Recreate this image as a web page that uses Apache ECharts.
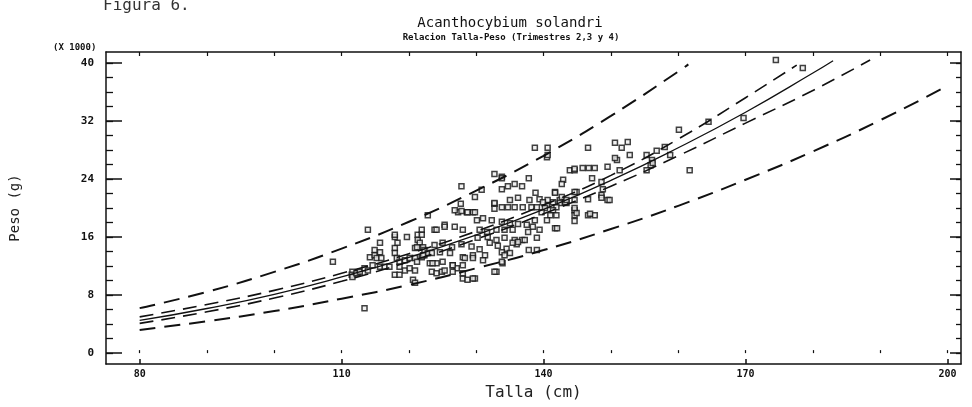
<!DOCTYPE html>
<html lang="es">
<head>
    <meta charset="UTF-8">
    <script src="https://cdn.jsdelivr.net/npm/echarts@6/dist/echarts.min.js"></script>
    <title>Figura 6</title>
</head>
<body style="margin:0;background:#fff;">
<div id="main" style="width: 972px;height:407px;"></div>
<script type="text/javascript">
    // etiquetas de los ejes
    var tallaTicks = [80, 110, 140, 170, 200];
    var tallaMinor = [80, 90, 100, 110, 120, 130, 140, 150, 160, 170, 180, 190, 200];
    var pesoTicks = [0, 8, 16, 24, 32, 40];
    var pesoMinor = [0, 2, 4, 6, 8, 10, 12, 14, 16, 18, 20, 22, 24, 26, 28, 30, 32, 34, 36, 38, 40];

    // observaciones talla (cm) - peso (x1000 g)
    var muestras = [
        [108.7,12.6],[111.6,11.2],[112.4,11.0],[111.5,10.8],[111.6,10.5],[112.2,11.0],[112.7,11.2],[113.4,11.7],
        [113.9,11.4],[113.4,6.2],[113.9,17.0],[114.2,13.2],[114.9,14.2],[114.9,13.5],[115.7,13.9],[115.2,13.1],
        [115.9,13.1],[115.7,15.2],[114.6,12.1],[115.7,11.9],[116.4,11.9],[117.1,11.9],[117.9,16.0],[117.9,16.3],
        [117.9,14.5],[117.9,13.8],[118.2,13.1],[118.3,15.2],[117.9,10.8],[118.6,10.8],[118.6,12.6],[119.4,12.8],
        [120.1,13.1],[120.9,13.1],[121.2,12.6],[121.9,13.2],[122.3,13.5],[118.6,11.9],[119.4,11.4],[120.1,11.7],
        [120.9,11.4],[120.6,10.1],[120.9,9.7],[119.7,16.0],[121.3,16.3],[121.3,15.6],[121.6,15.2],[122.1,14.6],
        [122.3,14.2],[122.8,13.8],[122.1,13.5],[120.9,14.5],[121.2,14.6],[121.9,17.0],[121.9,16.3],[122.8,19.0],
        [123.8,17.0],[125.3,17.7],[126.8,17.4],[125.0,15.2],[123.4,11.2],[124.1,11.0],[124.9,11.2],[123.1,12.4],
        [124.1,12.4],[126.5,12.1],[127.1,11.7],[128.0,12.1],[128.0,10.3],[128.7,10.1],[129.8,10.3],[127.8,23.0],
        [127.7,20.6],[127.3,19.4],[128.6,19.4],[129.5,19.4],[129.8,21.5],[130.8,22.5],[126.8,19.7],[127.8,19.6],
        [128.7,19.4],[129.8,19.4],[130.1,18.3],[131.0,18.6],[132.3,18.3],[133.8,18.1],[135.0,17.9],[136.2,17.8],
        [137.5,17.7],[138.4,17.4],[124.1,17.0],[125.3,17.4],[128.0,17.0],[130.5,17.0],[131.6,16.7],[133.0,17.0],
        [134.2,17.0],[135.4,17.0],[130.2,15.9],[131.7,16.0],[133.0,15.6],[134.2,15.9],[135.7,15.6],[136.8,15.6],
        [123.8,14.9],[126.4,14.6],[127.8,15.0],[129.3,14.7],[130.5,14.3],[132.0,15.2],[133.2,14.8],[134.5,14.4],
        [136.0,15.0],[123.4,13.8],[124.6,13.9],[126.1,13.8],[128.0,13.2],[129.5,13.5],[131.3,13.5],[133.8,13.9],
        [135.0,13.8],[123.5,12.4],[125.0,12.6],[126.5,12.1],[128.3,13.1],[129.5,13.1],[131.0,12.8],[125.3,11.4],
        [126.5,11.2],[128.0,11.0],[129.5,10.3],[133.0,11.2],[132.7,11.2],[133.9,12.4],[133.8,12.6],[134.2,13.5],
        [137.8,14.2],[139.0,14.2],[135.4,15.2],[136.2,15.3],[137.2,15.6],[139.0,15.9],[137.7,16.7],[138.7,18.3],
        [132.7,24.7],[133.8,24.3],[133.8,24.1],[135.7,23.3],[137.8,24.1],[138.7,28.3],[140.6,28.3],[140.5,27.0],
        [140.6,27.3],[133.8,22.6],[134.7,23.0],[136.8,23.0],[138.8,22.1],[141.7,22.2],[142.9,23.9],[142.7,23.3],
        [146.6,28.3],[132.7,20.6],[132.7,20.7],[133.8,20.1],[135.0,21.1],[136.2,21.4],[137.9,21.1],[139.4,21.2],
        [134.7,20.1],[135.7,20.1],[136.9,20.1],[138.2,20.1],[139.0,20.1],[140.5,20.4],[141.4,20.8],[142.4,21.1],
        [143.4,20.7],[132.7,19.9],[141.7,22.1],[142.7,21.5],[143.2,20.8],[142.4,20.7],[141.9,20.1],[141.4,19.7],
        [140.6,21.1],[139.9,20.8],[140.2,20.0],[139.7,19.4],[141.0,19.0],[141.9,19.0],[140.5,18.3],[141.7,17.2],
        [139.4,17.0],[142.0,17.2],[144.9,22.2],[144.6,22.2],[144.6,21.1],[146.6,21.2],[149.5,21.1],[148.6,21.8],
        [148.6,21.4],[144.6,19.7],[144.6,19.0],[144.6,18.2],[146.6,19.0],[147.6,19.0],[144.9,19.3],[146.9,19.2],
        [143.9,25.2],[144.6,25.2],[145.8,25.5],[146.7,25.5],[147.6,25.5],[149.5,25.7],[151.3,25.2],[147.2,24.1],
        [148.6,23.6],[148.8,22.6],[149.8,21.1],[150.6,29.0],[151.6,28.3],[152.5,29.1],[152.8,27.3],[150.9,26.6],
        [150.6,26.9],[155.3,27.3],[155.9,25.9],[155.3,25.2],[144.6,25.4],[143.4,21.1],[144.6,20.0],[156.8,27.9],
        [156.1,26.6],[156.2,26.2],[158.0,28.4],[158.8,27.3],[160.1,30.8],[161.7,25.2],[164.5,31.9],[169.7,32.4],
        [174.5,40.4],[178.5,39.3]
    ];

    // curvas: ajuste, limites internos y externos
    var ajuste = [[80,4.5],[90,6.15],[100,8.1],[110,10.5],[120,13.2],[130,16.3],[140,19.8],[150,23.8],[160,28.3],[170,33.2],[180,38.6],[183,40.3]];
    var limSupInt = [[80,5.0],[90,6.7],[100,8.65],[110,11.0],[120,13.7],[130,16.8],[140,20.4],[150,24.5],[160,29.5],[170,35.2],[177.6,39.7]];
    var limInfInt = [[80,4.1],[90,5.7],[100,7.6],[110,9.9],[120,12.6],[130,15.7],[140,19.2],[150,23.0],[160,27.2],[170,31.7],[180,36.2],[188.5,40.4]];
    var limSupExt = [[80,6.2],[90,8.45],[100,11.2],[110,14.4],[120,18.1],[130,22.4],[140,27.2],[150,32.7],[160,38.8],[161.5,39.8]];
    var limInfExt = [[80,3.2],[90,4.4],[100,5.8],[110,7.5],[120,9.4],[130,11.7],[140,14.2],[150,17.1],[160,20.3],[170,23.9],[180,27.8],[190,32.1],[199.3,36.5]];

    var mono = 'DejaVu Sans Mono';
    var myChart = echarts.init(document.getElementById('main'));

    var lineaEje = {show: true, onZero: false, lineStyle: {color: '#111', width: 1.5}};

    var option = {
        backgroundColor: '#fff',
        animation: false,
        title: [
            {text: 'Figura 6.', left: 98, top: -7, textStyle: {fontFamily: mono, fontSize: 16, fontWeight: 'normal', color: '#333'}},
            {text: 'Acanthocybium solandri', left: 505, top: 11, textAlign: 'center',
                textStyle: {fontFamily: mono, fontSize: 14, fontWeight: 'normal', color: '#111'}},
            {text: 'Relacion Talla-Peso (Trimestres 2,3 y 4)', left: 506, top: 28, textAlign: 'center',
                textStyle: {fontFamily: mono, fontSize: 9, fontWeight: 'bold', color: '#111'}},
            {text: '(X 1000)', left: 48, top: 38, textStyle: {fontFamily: mono, fontSize: 9, fontWeight: 'bold', color: '#111'}}
        ],
        grid: {left: 105, right: 11, top: 52, bottom: 43},
        xAxis: [
            {
                type: 'value', min: 75, max: 202, position: 'bottom',
                name: 'Talla (cm)', nameLocation: 'middle', nameGap: 21,
                nameTextStyle: {fontFamily: mono, fontSize: 16, color: '#222'},
                axisLine: lineaEje,
                axisTick: {show: true, inside: true, length: 5, customValues: tallaTicks, lineStyle: {color: '#111', width: 1.5}},
                axisLabel: {customValues: tallaTicks, margin: 5, fontFamily: mono, fontSize: 10, fontWeight: 'bold', color: '#111'},
                splitLine: {show: false}
            },
            {
                type: 'value', min: 75, max: 202, position: 'top',
                axisLine: lineaEje,
                axisTick: {show: true, inside: true, length: 4, customValues: tallaMinor, lineStyle: {color: '#111', width: 1.2}},
                axisLabel: {show: false}, splitLine: {show: false}
            },
            {
                type: 'value', min: 75, max: 202, position: 'bottom',
                axisLine: {show: false},
                axisTick: {show: true, inside: true, length: 3, customValues: tallaMinor, lineStyle: {color: '#111', width: 1.2}},
                axisLabel: {show: false}, splitLine: {show: false}
            }
        ],
        yAxis: [
            {
                type: 'value', min: -1.5, max: 41.5, position: 'left',
                name: 'Peso (g)', nameLocation: 'middle', nameGap: 84, nameRotate: 90,
                nameTextStyle: {fontFamily: mono, fontSize: 14, color: '#222'},
                axisLine: lineaEje,
                axisTick: {show: true, inside: true, length: 16, customValues: pesoTicks, lineStyle: {color: '#111', width: 1.5}},
                axisLabel: {customValues: pesoTicks, margin: 12, fontFamily: mono, fontSize: 11, fontWeight: 'bold', color: '#111'},
                splitLine: {show: false}
            },
            {
                type: 'value', min: -1.5, max: 41.5, position: 'left',
                axisLine: {show: false},
                axisTick: {show: true, inside: true, length: 7, customValues: pesoMinor, lineStyle: {color: '#111', width: 1.3}},
                axisLabel: {show: false}, splitLine: {show: false}
            },
            {
                type: 'value', min: -1.5, max: 41.5, position: 'right',
                axisLine: lineaEje,
                axisTick: {show: true, inside: true, length: 11, customValues: pesoTicks, lineStyle: {color: '#111', width: 1.5}},
                axisLabel: {show: false}, splitLine: {show: false}
            },
            {
                type: 'value', min: -1.5, max: 41.5, position: 'right',
                axisLine: {show: false},
                axisTick: {show: true, inside: true, length: 5, customValues: pesoMinor, lineStyle: {color: '#111', width: 1.3}},
                axisLabel: {show: false}, splitLine: {show: false}
            }
        ],
        series: [
            {
                name: 'Observado', type: 'scatter', data: muestras,
                symbol: 'rect', symbolSize: 5,
                itemStyle: {color: '#eee', borderColor: '#111', borderWidth: 1.5}
            },
            {
                name: 'Ajuste', type: 'line', data: ajuste, smooth: true, showSymbol: false,
                lineStyle: {color: '#111', width: 1.3, type: 'solid'}
            },
            {
                name: 'Lim. sup. int.', type: 'line', data: limSupInt, smooth: true, showSymbol: false,
                lineStyle: {color: '#111', width: 1.6, type: [14, 8]}
            },
            {
                name: 'Lim. inf. int.', type: 'line', data: limInfInt, smooth: true, showSymbol: false,
                lineStyle: {color: '#111', width: 1.6, type: [14, 8]}
            },
            {
                name: 'Lim. sup. ext.', type: 'line', data: limSupExt, smooth: true, showSymbol: false,
                lineStyle: {color: '#111', width: 2, type: [16, 9]}
            },
            {
                name: 'Lim. inf. ext.', type: 'line', data: limInfExt, smooth: true, showSymbol: false,
                lineStyle: {color: '#111', width: 2, type: [16, 9]}
            }
        ]
    };

    myChart.setOption(option);
</script>
</body>
</html>
